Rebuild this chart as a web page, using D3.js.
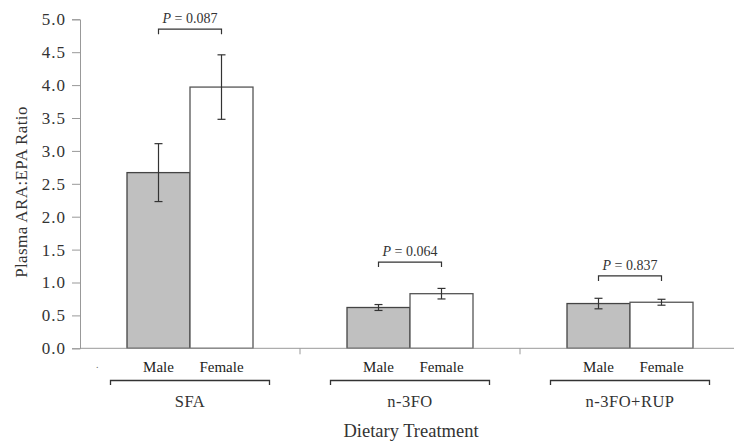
<!DOCTYPE html>
<html>
<head>
<meta charset="utf-8">
<script src="https://cdn.jsdelivr.net/npm/d3@7"></script>
<style>
  body { margin: 0; background: #fff; }
  text { font-family: "Liberation Serif", "DejaVu Serif", serif; }
</style>
</head>
<body>
<div id="chart"></div>
<script>
// Data
var groups = ["SFA", "n-3FO", "n-3FO+RUP"];
var sexes = ["Male", "Female"];
var maleMeans = [2.67, 0.62, 0.68];
var maleSE = [0.44, 0.045, 0.08];
var femaleMeans = [3.97, 0.83, 0.70];
var femaleSE = [0.49, 0.08, 0.045];
var pValues = ["0.087", "0.064", "0.837"];
var pLevels = [4.85, 1.31, 1.10];   // height of the P brackets, in ratio units
var yTicks = [0, 0.5, 1, 1.5, 2, 2.5, 3, 3.5, 4, 4.5, 5];

var width = 734, height = 441;

var svg = d3.select("#chart").append("svg")
    .attr("width", width)
    .attr("height", height);

// Scales
var x = d3.scaleBand()
    .domain(groups)
    .range([80, 740])
    .padding(0);

var xSex = d3.scaleBand()
    .domain(sexes)
    .range([0, x.bandwidth()])
    .paddingInner(0)
    .paddingOuter(0.746);

var y = d3.scaleLinear()
    .domain([0, 5])
    .range([348.3, 19.3]);

// Build rows for bars
var rows = [];
groups.forEach(function(g, i) {
  rows.push({group: g, sex: "Male", mean: maleMeans[i], se: maleSE[i]});
  rows.push({group: g, sex: "Female", mean: femaleMeans[i], se: femaleSE[i]});
});

// Y axis
var yAxis = svg.append("g")
    .attr("transform", "translate(80,0)")
    .call(d3.axisLeft(y).tickValues(yTicks).tickFormat(d3.format(".1f")).tickSize(8).tickPadding(6));
yAxis.select(".domain").attr("stroke", "#999");
yAxis.selectAll(".tick line").attr("stroke", "#999");
yAxis.selectAll(".tick text")
    .attr("fill", "#333")
    .style("font-size", "17px")
    .style("letter-spacing", "1px")
    .style("font-family", "Liberation Serif, serif");

// Y label
svg.append("text")
    .attr("transform", "rotate(-90)")
    .attr("x", -192)
    .attr("y", 27)
    .style("text-anchor", "middle")
    .style("font-size", "17px")
    .style("letter-spacing", "0.4px")
    .attr("fill", "#333")
    .text("Plasma ARA:EPA Ratio");

// Bars
svg.selectAll(".bar")
    .data(rows)
  .enter().append("rect")
    .attr("class", "bar")
    .attr("x", function(d) { return x(d.group) + xSex(d.sex); })
    .attr("width", xSex.bandwidth())
    .attr("y", function(d) { return y(d.mean); })
    .attr("height", function(d) { return y(0) - y(d.mean); })
    .attr("fill", function(d) { return d.sex == "Male" ? "#c0c0c0" : "#fff"; })
    .attr("stroke", function(d) { return d.sex == "Male" ? "#444" : "#555"; })
    .attr("stroke-width", 1.3);

// X axis line and ticks between groups
svg.append("line")
    .attr("x1", 80).attr("x2", 740)
    .attr("y1", y(0)).attr("y2", y(0))
    .attr("stroke", "#999");
svg.selectAll(".xtick")
    .data(groups.slice(0, 2))
  .enter().append("line")
    .attr("class", "xtick")
    .attr("x1", function(d) { return x(d) + x.bandwidth(); })
    .attr("x2", function(d) { return x(d) + x.bandwidth(); })
    .attr("y1", y(0)).attr("y2", y(0) + 6)
    .attr("stroke", "#999");

svg.append("text")
    .attr("x", 96).attr("y", 368)
    .style("font-size", "10px")
    .attr("fill", "#666")
    .text(".");

// Error bars
var err = svg.selectAll(".err")
    .data(rows)
  .enter().append("g")
    .attr("class", "err")
    .attr("stroke", "#333")
    .attr("stroke-width", 1.2);
function cx(d) { return x(d.group) + xSex(d.sex) + xSex.bandwidth() / 2; }
err.append("line")
    .attr("x1", cx).attr("x2", cx)
    .attr("y1", function(d) { return y(d.mean + d.se); })
    .attr("y2", function(d) { return y(d.mean - d.se); });
err.append("line")
    .attr("x1", function(d) { return cx(d) - 4; })
    .attr("x2", function(d) { return cx(d) + 4; })
    .attr("y1", function(d) { return y(d.mean + d.se); })
    .attr("y2", function(d) { return y(d.mean + d.se); });
err.append("line")
    .attr("x1", function(d) { return cx(d) - 4; })
    .attr("x2", function(d) { return cx(d) + 4; })
    .attr("y1", function(d) { return y(d.mean - d.se); })
    .attr("y2", function(d) { return y(d.mean - d.se); });

// Sex labels under bars
svg.selectAll(".sexlab")
    .data(rows)
  .enter().append("text")
    .attr("class", "sexlab")
    .attr("x", cx)
    .attr("y", 372)
    .style("text-anchor", "middle")
    .style("font-size", "15px")
    .attr("fill", "#222")
    .text(function(d) { return d.sex; });

// Group brackets and labels
groups.forEach(function(g) {
  var c = x(g) + x.bandwidth() / 2;
  svg.append("path")
    .attr("d", "M" + (c - 79.5) + ",385V380.5H" + (c + 79.5) + "V385")
    .attr("fill", "none")
    .attr("stroke", "#333")
    .attr("stroke-width", 1.3);
  svg.append("text")
    .attr("x", c)
    .attr("y", 407)
    .style("text-anchor", "middle")
    .style("font-size", "16.5px")
    .style("letter-spacing", "0.5px")
    .attr("fill", "#333")
    .text(g);
});

svg.append("text")
    .attr("x", 411)
    .attr("y", 437)
    .style("text-anchor", "middle")
    .style("font-size", "18.5px")
    .attr("fill", "#333")
    .text("Dietary Treatment");

// P value brackets
groups.forEach(function(g, i) {
  var x1 = x(g) + xSex("Male") + xSex.bandwidth() / 2;
  var x2 = x(g) + xSex("Female") + xSex.bandwidth() / 2;
  var yy = y(pLevels[i]);
  svg.append("path")
    .attr("d", "M" + x1 + "," + (yy + 5) + "V" + yy + "H" + x2 + "V" + (yy + 5))
    .attr("fill", "none")
    .attr("stroke", "#333")
    .attr("stroke-width", 1.2);
  var t = svg.append("text")
    .attr("x", (x1 + x2) / 2)
    .attr("y", yy - 6)
    .style("text-anchor", "middle")
    .style("font-size", "14px")
    .attr("fill", "#333");
  t.append("tspan").style("font-style", "italic").text("P");
  t.append("tspan").text(" = " + pValues[i]);
});
</script>
</body>
</html>
